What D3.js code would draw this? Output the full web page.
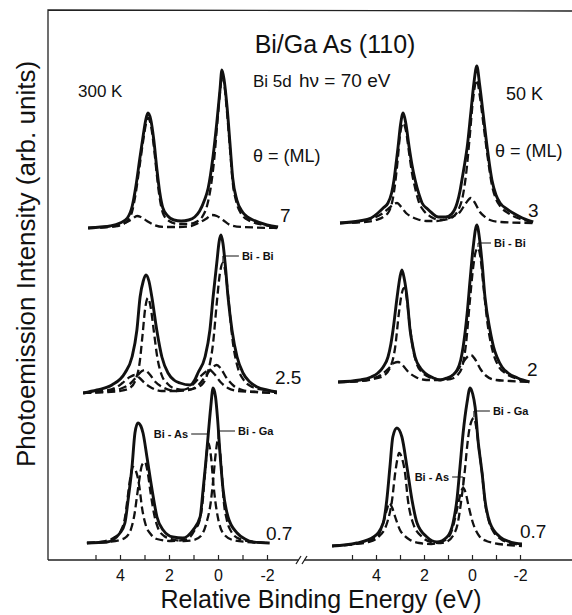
<!doctype html>
<html>
<head>
<meta charset="UTF-8">
<title>Bi/GaAs(110) Bi 5d</title>
<script src="https://cdn.jsdelivr.net/npm/d3@7/dist/d3.min.js"></script>
<style>
  body { margin: 0; background: #fff; }
  svg { display: block; }
  text { font-family: "Liberation Sans", Arial, sans-serif; fill: #111; }
  .frame { fill: none; stroke: #222; stroke-width: 1.3; }
  .solid { fill: none; stroke: #111; stroke-width: 2.9; stroke-linejoin: round; }
  .dash { fill: none; stroke: #111; stroke-width: 2.3; stroke-dasharray: 8,4; }
  .leader { fill: none; stroke: #111; stroke-width: 1; }
</style>
</head>
<body>
<svg id="chart" width="572" height="615"></svg>
<script>
// [relative binding energy (eV), intensity (arb. units above baseline)]
var energyTicks = [5, 4, 3, 2, 1, 0, -1, -2];
var tickLabels = {"4": "4", "2": "2", "0": "0", "-2": "-2"};

var coverage300 = ["7", "2.5", "0.7"];
var coverage50 = ["3", "2", "0.7"];
var offsets300 = [332, 167, 17];
var offsets50 = [337, 178, 14];

// ---- 300 K ----
var rt7Total = [[5.3,0],[4.8,1],[4.4,2],[4.0,5],[3.7,10],[3.5,22],[3.35,42],[3.2,68],[3.05,93],[2.95,108],[2.86,115],[2.75,109],[2.62,88],[2.5,60],[2.38,36],[2.25,20],[2.05,12],[1.8,8],[1.5,7],[1.2,8],[0.95,11],[0.75,17],[0.55,28],[0.4,40],[0.2,72],[0.05,105],[-0.08,138],[-0.16,158],[-0.25,148],[-0.37,121],[-0.5,81],[-0.6,50],[-0.77,28],[-1.0,16],[-1.2,11],[-1.43,8],[-2.0,3],[-2.45,1]];
var rt7BiBi = [[5.3,0],[4.5,1],[4.0,3],[3.7,7],[3.5,17],[3.35,36],[3.2,62],[3.05,88],[2.95,103],[2.86,110],[2.75,104],[2.62,82],[2.5,54],[2.38,30],[2.25,15],[2.0,7],[1.6,4],[1.2,4],[0.9,6],[0.65,11],[0.45,22],[0.3,40],[0.15,70],[0.03,105],[-0.08,135],[-0.16,152],[-0.25,145],[-0.37,115],[-0.5,76],[-0.6,46],[-0.75,26],[-0.95,14],[-1.3,7],[-1.9,3],[-2.45,1]];
var rt7Int = [[5.3,0],[4.6,1],[4.1,2],[3.8,5],[3.5,9],[3.3,12],[3.15,11],[2.9,7],[2.6,3],[2.2,1],[1.6,1],[1.1,2],[0.8,5],[0.5,9],[0.25,13],[0.05,12],[-0.2,8],[-0.5,3],[-1.0,1],[-2.45,0]];

var rt25Total = [[5.5,0],[4.94,3],[4.33,8],[3.8,20],[3.51,36],[3.31,63],[3.18,96],[3.05,112],[2.94,118],[2.82,112],[2.7,96],[2.5,63],[2.29,36],[2.04,20],[1.8,13],[1.55,10],[1.14,8],[0.95,13],[0.82,20],[0.53,36],[0.33,63],[0.2,96],[0.05,130],[-0.05,152],[-0.12,158],[-0.2,150],[-0.29,130],[-0.41,96],[-0.57,63],[-0.78,36],[-1.02,20],[-1.3,11],[-1.6,6],[-2.0,3],[-2.4,1]];
var rt25BiBi = [[5.5,0],[4.5,1],[4.0,2],[3.6,5],[3.35,14],[3.2,30],[3.08,58],[2.97,85],[2.86,95],[2.75,86],[2.62,62],[2.48,36],[2.3,18],[2.05,9],[1.7,4],[1.3,3],[0.9,5],[0.6,10],[0.4,22],[0.2,50],[0.05,90],[-0.08,120],[-0.2,130],[-0.32,118],[-0.45,88],[-0.6,52],[-0.8,26],[-1.05,13],[-1.4,6],[-1.9,3],[-2.4,1]];
var rt25BiAs = [[5.5,0],[4.7,2],[4.2,5],[3.9,10],[3.6,16],[3.4,18],[3.2,15],[2.95,9],[2.7,5],[2.3,2],[1.8,2],[1.3,4],[1.0,9],[0.7,17],[0.45,22],[0.33,23],[0.15,19],[-0.1,11],[-0.4,5],[-0.8,2],[-1.5,1],[-2.4,0]];
var rt25BiGa = [[5.5,0],[4.5,2],[4.0,4],[3.6,9],[3.3,17],[3.1,22],[2.98,23],[2.8,19],[2.55,11],[2.2,5],[1.7,2],[1.2,3],[0.8,8],[0.5,17],[0.25,25],[0.05,28],[-0.1,25],[-0.35,15],[-0.65,7],[-1.0,3],[-1.6,1],[-2.4,0]];

var rt07Total = [[5.35,0],[4.53,1],[4.0,10],[3.8,20],[3.67,43],[3.51,76],[3.39,110],[3.27,120],[3.15,117],[3.06,110],[2.9,86],[2.69,53],[2.49,26],[2.24,13],[1.84,6],[1.43,5],[1.02,13],[0.73,26],[0.61,53],[0.5,80],[0.4,108],[0.3,135],[0.2,155],[0.1,146],[0.02,125],[-0.08,90],[-0.2,55],[-0.41,26],[-0.78,10],[-1.1,4],[-1.43,1],[-2.1,0]];
var rt07BiAs = [[5.35,0],[4.6,2],[4.2,6],[3.95,13],[3.8,25],[3.7,43],[3.58,65],[3.47,76],[3.35,72],[3.22,58],[3.1,35],[2.95,18],[2.75,9],[2.5,4],[1.9,2],[1.4,3],[1.14,6],[0.9,15],[0.78,20],[0.62,43],[0.53,70],[0.4,100],[0.28,85],[0.2,62],[0.1,40],[0.0,25],[-0.2,10],[-0.6,3],[-1.2,1],[-2.1,0]];
var rt07BiGa = [[5.35,0],[4.5,1],[4.0,3],[3.75,6],[3.55,14],[3.4,30],[3.3,48],[3.22,62],[3.1,78],[2.98,81],[2.88,72],[2.75,50],[2.6,28],[2.45,15],[2.2,7],[1.9,4],[1.4,2],[1.0,3],[0.7,7],[0.45,22],[0.3,40],[0.2,62],[0.1,88],[0.0,103],[-0.08,92],[-0.15,72],[-0.22,46],[-0.37,22],[-0.55,11],[-0.8,5],[-1.2,2],[-2.1,0]];

// ---- 50 K ----
var lt3Total = [[5.5,0],[4.7,2],[4.2,5],[3.92,10],[3.7,15],[3.5,20],[3.35,30],[3.25,43],[3.15,62],[3.08,76],[2.98,98],[2.87,110],[2.76,100],[2.62,76],[2.5,58],[2.37,43],[2.2,28],[2.08,20],[1.85,14],[1.67,10],[1.4,6],[1.1,6],[0.85,9],[0.62,20],[0.5,32],[0.42,43],[0.3,60],[0.2,76],[0.05,110],[-0.08,140],[-0.2,157],[-0.32,138],[-0.46,110],[-0.63,76],[-0.83,43],[-1.0,28],[-1.17,20],[-1.45,14],[-1.71,10],[-2.1,5],[-2.55,1]];
var lt3BiBi = [[5.5,0],[4.5,1],[4.0,3],[3.7,6],[3.45,12],[3.3,24],[3.2,40],[3.1,62],[3.0,88],[2.87,100],[2.75,92],[2.62,70],[2.5,50],[2.37,35],[2.2,20],[2.0,12],[1.7,6],[1.3,3],[1.0,4],[0.75,7],[0.55,14],[0.4,25],[0.25,48],[0.1,85],[-0.05,125],[-0.2,143],[-0.32,128],[-0.46,102],[-0.63,70],[-0.83,38],[-1.0,24],[-1.2,16],[-1.5,10],[-1.9,5],[-2.55,1]];
var lt3Int = [[5.5,0],[4.8,1],[4.4,3],[4.0,6],[3.7,10],[3.45,15],[3.25,19],[3.12,20],[2.95,16],[2.75,10],[2.58,7],[2.3,4],[1.9,2],[1.5,2],[1.2,3],[0.85,6],[0.5,11],[0.25,20],[0.05,25],[-0.1,21],[-0.33,11],[-0.55,6],[-0.75,3],[-1.2,1],[-2.55,0]];

var lt2Total = [[5.58,0],[4.67,2],[4.2,5],[3.92,9],[3.7,15],[3.5,25],[3.38,38],[3.29,52],[3.12,85],[3.0,105],[2.92,112],[2.82,103],[2.71,85],[2.58,52],[2.47,36],[2.37,25],[2.15,14],[1.96,9],[1.6,4],[1.33,2],[1.04,4],[0.8,7],[0.62,12],[0.47,22],[0.37,35],[0.2,69],[0.08,102],[-0.05,135],[-0.2,157],[-0.32,142],[-0.42,119],[-0.54,85],[-0.75,52],[-0.9,35],[-1.04,25],[-1.25,15],[-1.5,9],[-1.9,4],[-2.4,0]];
var lt2BiBi = [[5.58,0],[4.6,1],[4.1,3],[3.7,6],[3.4,15],[3.2,35],[3.05,68],[2.93,88],[2.83,94],[2.72,84],[2.6,58],[2.45,32],[2.3,18],[2.05,9],[1.7,4],[1.3,2],[0.9,3],[0.6,7],[0.4,16],[0.25,38],[0.1,78],[-0.05,115],[-0.15,130],[-0.25,134],[-0.35,125],[-0.48,95],[-0.65,58],[-0.85,32],[-1.1,16],[-1.45,8],[-1.9,3],[-2.4,0]];
var lt2Int = [[5.58,0],[4.7,1],[4.2,3],[3.8,7],[3.5,13],[3.25,19],[3.08,20],[2.9,17],[2.65,10],[2.35,5],[1.9,2],[1.4,2],[1.0,4],[0.7,9],[0.45,17],[0.2,25],[0.04,27],[-0.12,23],[-0.35,13],[-0.6,6],[-1.0,2],[-1.6,1],[-2.4,0]];

var lt07Total = [[5.83,0],[4.8,3],[4.1,9],[3.7,23],[3.55,46],[3.42,79],[3.3,109],[3.13,118],[2.92,109],[2.71,79],[2.5,46],[2.29,23],[1.88,9],[1.46,4],[1.04,9],[0.79,23],[0.63,46],[0.5,79],[0.37,113],[0.21,143],[0.08,158],[-0.03,152],[-0.13,139],[-0.25,106],[-0.42,73],[-0.54,46],[-0.75,23],[-1.17,9],[-1.6,4],[-2.08,2]];
var lt07BiGa = [[5.83,0],[4.9,2],[4.3,4],[3.9,9],[3.54,23],[3.33,46],[3.2,73],[3.1,88],[3.04,93],[2.92,88],[2.79,73],[2.67,46],[2.46,23],[2.08,9],[1.7,4],[1.3,3],[1.0,5],[0.8,10],[0.6,22],[0.45,45],[0.3,75],[0.2,100],[0.1,118],[-0.08,128],[-0.2,115],[-0.3,95],[-0.42,73],[-0.54,44],[-0.7,25],[-0.9,14],[-1.2,7],[-1.6,3],[-2.08,1]];
var lt07BiAs = [[5.83,0],[4.9,2],[4.4,4],[3.96,9],[3.7,23],[3.55,36],[3.45,43],[3.32,38],[3.2,29],[3.0,16],[2.8,10],[2.58,6],[2.2,3],[1.7,2],[1.3,4],[1.0,8],[0.83,16],[0.63,36],[0.5,50],[0.37,58],[0.25,52],[0.17,43],[-0.04,23],[-0.33,9],[-0.6,5],[-0.9,3],[-1.5,1],[-2.08,0]];

var svg = d3.select("#chart");

var y = d3.scaleLinear().domain([0, 550]).range([560, 10]);
var x300 = d3.scaleLinear().domain([5, -2]).range([95.5, 267]);
var x50 = d3.scaleLinear().domain([5, -2]).range([352, 520]);

var panels = [
  { x: x300, spectra: [
      { off: offsets300[0], total: rt7Total, parts: [rt7BiBi, rt7Int] },
      { off: offsets300[1], total: rt25Total, parts: [rt25BiBi, rt25BiAs, rt25BiGa] },
      { off: offsets300[2], total: rt07Total, parts: [rt07BiAs, rt07BiGa] } ] },
  { x: x50, spectra: [
      { off: offsets50[0], total: lt3Total, parts: [lt3BiBi, lt3Int] },
      { off: offsets50[1], total: lt2Total, parts: [lt2BiBi, lt2Int] },
      { off: offsets50[2], total: lt07Total, parts: [lt07BiGa, lt07BiAs] } ] }
];

// frame
svg.append("path").attr("class", "frame").attr("d", "M48,560 L48,10 L572,11");
svg.append("path").attr("class", "frame").attr("d", "M48,560 L299,560 M304,560 L572,560");
svg.append("path").attr("class", "frame").attr("d", "M296,564 L301,556 M302,564 L307,556");

// energy axes (ticks point inward)
panels.forEach(function(p) {
  var ax = svg.append("g")
    .attr("transform", "translate(0,560)")
    .call(d3.axisBottom(p.x)
      .tickValues(energyTicks)
      .tickSizeInner(-5)
      .tickSizeOuter(0)
      .tickPadding(10)
      .tickFormat(function(d) { return tickLabels[d] || ""; }));
  ax.select(".domain").remove();
  ax.selectAll("line").attr("stroke", "#222").attr("stroke-width", 1.2);
  ax.selectAll("text")
    .style("font-family", "'Liberation Sans', Arial, sans-serif")
    .style("font-size", "16px")
    .attr("fill", "#111");
});

// spectra
panels.forEach(function(p) {
  p.spectra.forEach(function(s) {
    var line = d3.line()
      .curve(d3.curveMonotoneX)
      .x(function(d) { return p.x(d[0]); })
      .y(function(d) { return y(d[1] + s.off); });

    svg.append("g").selectAll("path")
      .data(s.parts)
      .enter().append("path")
      .attr("class", "dash")
      .attr("d", line);

    svg.append("path")
      .datum(s.total)
      .attr("class", "solid")
      .attr("d", line);
  });
});

// component labels with leader lines: anchor on a component peak
var notes = [
  { x: x300, e: -0.2, h: 130, off: offsets300[1], text: "Bi - Bi", dy: -6, dx: 16 },
  { x: x50, e: -0.25, h: 134, off: offsets50[1], text: "Bi - Bi", dy: -4, dx: 13 },
  { x: x300, e: 0.4, h: 100, off: offsets300[2], text: "Bi - As", dy: -8, dx: -17 },
  { x: x300, e: 0.0, h: 103, off: offsets300[2], text: "Bi - Ga", dy: -8, dx: 17 },
  { x: x50, e: -0.08, h: 128, off: offsets50[2], text: "Bi - Ga", dy: -6, dx: 16 },
  { x: x50, e: 0.37, h: 58, off: offsets50[2], text: "Bi - As", dy: -10, dx: -11 }
];
notes.forEach(function(n) {
  var px = n.x(n.e), py = y(n.h + n.off) - 1;
  svg.append("path").attr("class", "leader")
    .attr("d", "M" + px + "," + py + " L" + px + "," + (py + n.dy) + " L" + (px + n.dx) + "," + (py + n.dy));
  svg.append("text")
    .attr("x", px + n.dx + (n.dx > 0 ? 3 : -3))
    .attr("y", py + n.dy)
    .attr("dy", "0.35em")
    .attr("text-anchor", n.dx > 0 ? "start" : "end")
    .style("font-size", "11px")
    .style("font-weight", "bold")
    .text(n.text);
});

// coverage labels
var covPos300 = [[280, 222], [275, 384], [266, 540]];
var covPos50 = [[528, 217], [527, 376], [520, 538]];
coverage300.forEach(function(c, i) {
  svg.append("text").attr("x", covPos300[i][0]).attr("y", covPos300[i][1])
    .style("font-size", "19px").text(c);
});
coverage50.forEach(function(c, i) {
  svg.append("text").attr("x", covPos50[i][0]).attr("y", covPos50[i][1])
    .style("font-size", "19px").text(c);
});

// titles and annotations
svg.append("text").attr("x", 335).attr("y", 53).attr("text-anchor", "middle")
  .style("font-size", "25px").text("Bi/Ga As (110)");
svg.append("text").attr("x", 253).attr("y", 87).style("font-size", "17px").text("Bi 5d");
svg.append("text").attr("x", 299).attr("y", 87).style("font-size", "19px").text("h\u03bd = 70 eV");
svg.append("text").attr("x", 78).attr("y", 97).style("font-size", "17px").text("300 K");
svg.append("text").attr("x", 506).attr("y", 100).style("font-size", "18px").text("50 K");
svg.append("text").attr("x", 253).attr("y", 162).style("font-size", "18px").text("\u03b8 = (ML)");
svg.append("text").attr("x", 495).attr("y", 157).style("font-size", "18px").text("\u03b8 = (ML)");

svg.append("text").attr("x", 321).attr("y", 608).attr("text-anchor", "middle")
  .style("font-size", "25px").text("Relative Binding Energy (eV)");
svg.append("text")
  .attr("transform", "translate(35,264) rotate(-90)")
  .attr("text-anchor", "middle")
  .style("font-size", "26px")
  .text("Photoemission Intensity (arb. units)");
</script>
</body>
</html>
